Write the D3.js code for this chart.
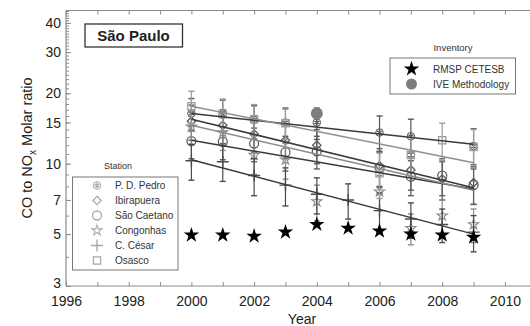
<!DOCTYPE html>
<html>
<head>
<meta charset="utf-8">
<script src="https://cdn.jsdelivr.net/npm/d3@7"></script>
<style>
  html, body { margin: 0; padding: 0; background: #fff; }
  svg { display: block; font-family: "Liberation Sans", Arial, Helvetica, sans-serif; }
</style>
</head>
<body>
<svg id="chart" width="530" height="326"></svg>
<script>
// CO/NOx molar ratio per monitoring station, 2000–2009
const years = [2000, 2001, 2002, 2003, 2004, 2005, 2006, 2007, 2008, 2009];

const stations = ["P. D. Pedro", "Ibirapuera", "São Caetano", "Congonhas", "C. César", "Osasco"];

const pdPedro     = [16.4, 16.2, 15.4, 15.0, 15.0, null, 13.6, 13.1, null, 11.9];
const pdPedroErr  = [2.6, 2.5, 2.3, 2.3, 2.3, null, 2.4, 2.4, null, 2.2];
const ibirapuera    = [15.2, 14.6, 13.4, 12.6, 12.0, null, 9.8, 9.4, 8.6, 8.3];
const ibirapueraErr = [2.6, 2.4, 2.2, 2.1, 2.0, null, 1.8, 1.7, 1.6, 1.6];
const saoCaetano    = [12.5, 12.4, 12.2, 11.2, 11.3, null, 9.6, 8.8, 8.9, 8.1];
const saoCaetanoErr = [2.0, 2.0, 2.0, 1.9, 1.8, null, 1.7, 1.5, 1.6, 1.4];
const congonhas    = [14.4, 13.6, 10.9, 10.4, 6.9, null, 7.6, 5.3, 6.0, 5.5];
const congonhasErr = [2.3, 2.2, 1.9, 1.8, 1.2, null, 1.3, 0.8, 1.0, 0.9];
const cCesar    = [10.3, 10.2, 8.9, 8.1, 7.4, 7.0, 6.3, 5.8, 5.5, 5.1];
const cCesarErr = [1.8, 1.8, 1.6, 1.5, 1.3, 1.2, 1.2, 1.0, 0.9, 0.9];
const osasco    = [17.6, 16.3, 15.5, 14.9, null, null, 9.1, 10.9, 12.6, 11.8];
const osascoErr = [2.8, 2.6, 2.4, 2.2, null, null, 2.0, 2.1, 2.3, 2.2];

// fitted trend per station: ratio at 2000 and at 2009
const trendStart = [16.4, 15.5, 12.6, 14.6, 10.4, 17.6];
const trendEnd   = [12.1, 7.9, 7.8, 7.7, 5.0, 10.1];

// emission inventories
const cetesb = [4.95, 4.95, 4.9, 5.1, 5.5, 5.3, 5.15, 5.0, 4.95, 4.85];
const iveYears = [2004];
const iveValues = [16.4];

const xTickYears = d3.range(1996, 2011);
const yMajorTicks = [3, 5, 7, 10, 15, 20, 30, 40];
const yMinorTicks = d3.range(3, 10).concat(d3.range(10, 46, 1));

const seriesValues = [pdPedro, ibirapuera, saoCaetano, congonhas, cCesar, osasco];
const seriesErrors = [pdPedroErr, ibirapueraErr, saoCaetanoErr, congonhasErr, cCesarErr, osascoErr];

// ---- styling ----
const symbolTypes = ["asterisk", "diamond", "circle", "star", "plus", "square"];
const lineColors = ["#3a3a3a", "#3a3a3a", "#3a3a3a", "#8a8a8a", "#3a3a3a", "#8f8f8f"];
const markColors = ["#555", "#5c5c5c", "#5c5c5c", "#8c8c8c", "#4c4c4c", "#9c9c9c"];

const svg = d3.select("#chart");
const x = d3.scaleLinear().domain([1996, 2010.8]).range([66, 530]);
const y = d3.scaleLog().domain([3, 45.2]).range([286, 10.5]);

const axisColor = "#8c8c8c";

// frame lines
svg.append("line").attr("x1", 66).attr("x2", 530).attr("y1", 10.5).attr("y2", 10.5)
  .attr("stroke", axisColor).attr("stroke-width", 1.2);

// bottom axis with inward ticks
const gx = svg.append("g").attr("transform", "translate(0,286)")
  .call(d3.axisBottom(x).tickValues(xTickYears).tickSize(-4).tickPadding(10)
    .tickFormat(d => d % 2 === 0 ? d : ""));
// top axis ticks
const gxt = svg.append("g").attr("transform", "translate(0,10.5)")
  .call(d3.axisTop(x).tickValues(xTickYears).tickSize(-4).tickFormat(""));
// left axis: minor then major ticks
const gym = svg.append("g").attr("transform", "translate(66,0)")
  .call(d3.axisLeft(y).tickValues(yMinorTicks).tickSize(-3).tickFormat(""));
const gy = svg.append("g").attr("transform", "translate(66,0)")
  .call(d3.axisLeft(y).tickValues(yMajorTicks).tickSize(-5).tickPadding(5).tickFormat(d3.format("d")));

[gx, gxt, gym, gy].forEach(g => {
  g.select(".domain").attr("stroke", axisColor).attr("stroke-width", 1.2);
  g.selectAll(".tick line").attr("stroke", axisColor);
  g.selectAll("text").attr("fill", "#222").style("font-size", "14px");
});
gx.select(".domain").attr("d", "M66,0H530");
gxt.select(".domain").remove();
gym.select(".domain").attr("d", "M0,286V10.5");
gy.select(".domain").remove();
// lift the lowest y label a little so it clears the year labels
gy.selectAll(".tick text").filter(d => d === 3).attr("dy", "0.1em");

// axis titles
svg.append("text").attr("x", 302).attr("y", 324).attr("text-anchor", "middle")
  .style("font-size", "14px").attr("fill", "#222").text("Year");
const yt = svg.append("text").attr("transform", "translate(32,148) rotate(-90)")
  .attr("text-anchor", "middle").style("font-size", "14.5px").attr("fill", "#222");
yt.append("tspan").text("CO to NO");
yt.append("tspan").attr("dy", 4).style("font-size", "10px").text("x");
yt.append("tspan").attr("dy", -4).text(" Molar ratio");

// symbol helper
function drawSymbol(g, type, cx, cy, size, color, fill) {
  const s = size;
  if (type === "circle") {
    g.append("circle").attr("cx", cx).attr("cy", cy).attr("r", s * 0.5)
      .attr("fill", fill || "none").attr("stroke", color).attr("stroke-width", 1.3);
  } else if (type === "square") {
    g.append("rect").attr("x", cx - s * 0.4).attr("y", cy - s * 0.4)
      .attr("width", s * 0.8).attr("height", s * 0.8)
      .attr("fill", fill || "none").attr("stroke", color).attr("stroke-width", 1.3);
  } else if (type === "diamond") {
    g.append("path").attr("d", d3.symbol(d3.symbolDiamond2, s * s * 0.55)())
      .attr("transform", `translate(${cx},${cy})`)
      .attr("fill", fill || "none").attr("stroke", color).attr("stroke-width", 1.3);
  } else if (type === "star") {
    g.append("path").attr("d", d3.symbol(d3.symbolStar, s * s * 0.4)())
      .attr("transform", `translate(${cx},${cy})`)
      .attr("fill", fill || "none").attr("stroke", color).attr("stroke-width", 1.1);
  } else if (type === "plus") {
    g.append("path").attr("d", d3.symbol(d3.symbolPlus, s * s * 0.6)())
      .attr("transform", `translate(${cx},${cy})`)
      .attr("fill", "none").attr("stroke", color).attr("stroke-width", 1.4);
  } else if (type === "asterisk") {
    g.append("circle").attr("cx", cx).attr("cy", cy).attr("r", s * 0.42)
      .attr("fill", fill || "none").attr("stroke", color).attr("stroke-width", 1);
    g.append("path").attr("d", d3.symbol(d3.symbolAsterisk, s * s * 0.3)())
      .attr("transform", `translate(${cx},${cy})`)
      .attr("fill", "none").attr("stroke", color).attr("stroke-width", 1.3);
  }
}

// error bars and station markers
const plot = svg.append("g");
seriesValues.forEach((vals, i) => {
  const g = plot.append("g");
  vals.forEach((v, j) => {
    if (v == null) return;
    const e = seriesErrors[i][j];
    const cx = x(years[j]);
    g.append("line").attr("x1", cx).attr("x2", cx)
      .attr("y1", y(v - e)).attr("y2", y(v + e))
      .attr("stroke", markColors[i]).attr("stroke-width", 1.2);
    [v - e, v + e].forEach(t => {
      g.append("line").attr("x1", cx - 3).attr("x2", cx + 3)
        .attr("y1", y(t)).attr("y2", y(t))
        .attr("stroke", markColors[i]).attr("stroke-width", 1.4);
    });
    drawSymbol(g, symbolTypes[i], cx, y(v), 9, markColors[i]);
  });
});

// regression lines
stations.forEach((s, i) => {
  plot.append("line")
    .attr("x1", x(2000)).attr("y1", y(trendStart[i]))
    .attr("x2", x(2009)).attr("y2", y(trendEnd[i]))
    .attr("stroke", lineColors[i]).attr("stroke-width", 1.5);
});

// inventory marks
const starPath = d3.symbol(d3.symbolStar, 75)();
plot.selectAll(".cetesb").data(cetesb).join("path")
  .attr("class", "cetesb").attr("d", starPath)
  .attr("transform", (d, j) => `translate(${x(years[j])},${y(d)})`)
  .attr("fill", "#000");
plot.selectAll(".ive").data(iveValues).join("circle")
  .attr("class", "ive")
  .attr("cx", (d, j) => x(iveYears[j])).attr("cy", d => y(d)).attr("r", 6)
  .attr("fill", "#7d7d7d");

// title box
svg.append("rect").attr("x", 85).attr("y", 24).attr("width", 97.5).attr("height", 23)
  .attr("fill", "#fff").attr("stroke", "#333").attr("stroke-width", 1.3);
svg.append("text").attr("x", 133.5).attr("y", 41).attr("text-anchor", "middle")
  .style("font-size", "15px").style("font-weight", "bold").attr("fill", "#222").text("São Paulo");

// station legend
svg.append("text").attr("x", 118).attr("y", 169).attr("text-anchor", "middle")
  .style("font-size", "9px").attr("fill", "#333").text("Station");
svg.append("rect").attr("x", 72.5).attr("y", 177).attr("width", 105.5).attr("height", 93)
  .attr("fill", "#fff").attr("stroke", "#777").attr("stroke-width", 1);
stations.forEach((s, i) => {
  const ly = 185.5 + i * 15;
  const g = svg.append("g");
  drawSymbol(g, symbolTypes[i], 97, ly, 9, "#aaa");
  svg.append("text").attr("x", 115).attr("y", ly + 3.5).style("font-size", "10px")
    .attr("fill", "#333").text(s);
});

// inventory legend
svg.append("text").attr("x", 453).attr("y", 51).attr("text-anchor", "middle")
  .style("font-size", "9.5px").attr("fill", "#333").text("Inventory");
svg.append("rect").attr("x", 390).attr("y", 58).attr("width", 125.5).attr("height", 36)
  .attr("fill", "#fff").attr("stroke", "#777").attr("stroke-width", 1);
svg.append("path").attr("d", starPath).attr("transform", "translate(411.5,69)").attr("fill", "#000");
svg.append("circle").attr("cx", 411.5).attr("cy", 84).attr("r", 5.5).attr("fill", "#7d7d7d");
svg.append("text").attr("x", 433).attr("y", 72.5).style("font-size", "10px").attr("fill", "#333").text("RMSP CETESB");
svg.append("text").attr("x", 433).attr("y", 87.5).style("font-size", "10px").attr("fill", "#333").text("IVE Methodology");
</script>
</body>
</html>
